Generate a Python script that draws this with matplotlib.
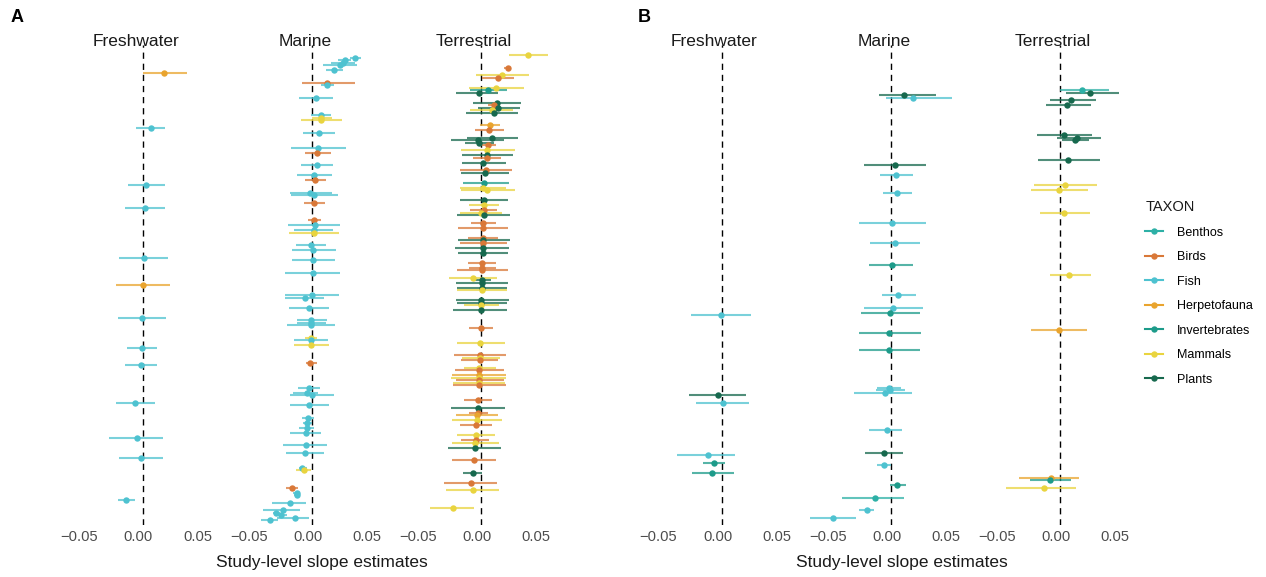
import matplotlib
matplotlib.use('Agg')
import matplotlib.pyplot as plt
from matplotlib.lines import Line2D
from matplotlib.transforms import ScaledTranslation

plt.rcParams['font.family'] = ['Liberation Sans', 'DejaVu Sans']

# ---------------- categories ----------------
REALMS = ['Freshwater', 'Marine', 'Terrestrial']
TAXA = ['Benthos', 'Birds', 'Fish', 'Herpetofauna', 'Invertebrates', 'Mammals', 'Plants']
CODE = {'Be': 'Benthos', 'Bi': 'Birds', 'Fi': 'Fish', 'He': 'Herpetofauna',
        'In': 'Invertebrates', 'Ma': 'Mammals', 'Pl': 'Plants'}
COLORS = {'Benthos': '#2DB0A6', 'Birds': '#D97838', 'Fish': '#4EC2D0',
          'Herpetofauna': '#E9A42E', 'Invertebrates': '#1D9B8A', 'Mammals': '#E9D43F',
          'Plants': '#17694E'}
X_TICKS = [-0.05, 0.0, 0.05]
X_TICKLABELS = ['\u22120.05', '0.00', '0.05']

# ---------------- Panel A : Freshwater ----------------
A_FW_taxon = ['He', 'Fi', 'Fi', 'Fi', 'Fi', 'He', 'Fi', 'Fi', 'Fi', 'Fi', 'Fi', 'Fi', 'Fi']
A_FW_est = [0.018, 0.0065, 0.0025, 0.0017, 0.0008, 0.0003, -0.0008, -0.0011, -0.002, -0.0065, -0.0051, -0.0014, -0.014]
A_FW_lo = [0.000, -0.0057, -0.013, -0.015, -0.0206, -0.0226, -0.021, -0.0133, -0.015, -0.0226, -0.0286, -0.020, -0.0214]
A_FW_hi = [0.037, 0.019, 0.0186, 0.0186, 0.0215, 0.0231, 0.0195, 0.0121, 0.0119, 0.0099, 0.0167, 0.017, -0.0065]
A_FW_rank = [9, 31, 54, 63, 83, 94, 107, 119, 126, 141, 155, 163, 180]

# ---------------- Panel A : Marine ----------------
A_MA_taxon = ['Fi', 'Fi', 'Fi', 'Fi', 'Fi', 'Bi', 'Fi', 'Fi', 'Fi', 'Ma',
              'Ma', 'Fi', 'Fi', 'Bi', 'Fi', 'Fi', 'Bi', 'Fi', 'Fi', 'Bi',
              'Bi', 'Fi', 'Fi', 'Ma', 'Fi', 'Fi', 'Fi', 'Fi', 'Fi', 'Fi',
              'Fi', 'Fi', 'Fi', 'Fi', 'Ma', 'Fi', 'Ma', 'Bi', 'Fi', 'Fi',
              'Fi', 'Fi', 'Fi', 'Fi', 'Fi', 'Fi', 'Fi', 'Fi', 'Fi', 'Ma',
              'Bi', 'Fi', 'Fi', 'Fi', 'Fi', 'Fi', 'Fi', 'Fi', 'Fi']
A_MA_est = [0.0365, 0.0275, 0.026, 0.0235, 0.0184, 0.0127, 0.0127, 0.0029, 0.0074, 0.0074,
            0.0074, 0.0057, 0.0048, 0.0042, 0.0037, 0.0012, 0.0025, -0.0017, 0.0017, 0.0014,
            0.0014, 0.002, 0.0014, 0.0012, -0.0014, 0.0006, 0.0006, 0.0003, 0.0, -0.0062,
            -0.0028, -0.0008, -0.0008, -0.0008, -0.0011, -0.0011, -0.0011, -0.0017, -0.003, -0.0042,
            0.0, -0.0028, -0.0034, -0.0042, -0.0047, -0.0053, -0.0056, -0.0059, -0.0087, -0.0073,
            -0.0175, -0.0132, -0.0132, -0.0192, -0.0251, -0.0305, -0.0268, -0.0144, -0.0361]
A_MA_lo = [0.032, 0.022, 0.016, 0.009, 0.0113, -0.0085, 0.0076, -0.0113, -0.0011, -0.0005,
           -0.0096, -0.0076, -0.018, -0.0062, -0.0096, -0.0132, -0.006, -0.019, -0.0178, -0.0073,
           -0.0039, -0.0203, -0.0153, -0.020, -0.0138, -0.0175, -0.0172, -0.0229, -0.0229, -0.0229,
           -0.0197, -0.0132, -0.0132, -0.0212, -0.006, -0.0155, -0.0153, -0.0056, -0.0124, -0.0166,
           -0.0186, -0.0186, -0.0087, -0.0081, -0.0113, -0.0189, -0.0246, -0.022, -0.0115, -0.014,
           -0.0223, -0.0161, -0.0158, -0.0342, -0.0415, -0.0335, -0.0315, -0.0302, -0.0435]
A_MA_hi = [0.041, 0.033, 0.036, 0.038, 0.0257, 0.0365, 0.018, 0.0175, 0.0158, 0.0164,
           0.0252, 0.0195, 0.0286, 0.0156, 0.0178, 0.0169, 0.0119, 0.0164, 0.022, 0.0108,
           0.0071, 0.0237, 0.0173, 0.0224, 0.0119, 0.0198, 0.019, 0.0235, 0.0229, 0.0102,
           0.0139, 0.0127, 0.0116, 0.0195, 0.0042, 0.013, 0.0141, 0.0037, 0.0065, 0.0046,
           0.0186, 0.0139, 0.0017, -0.0005, 0.0014, 0.0071, 0.0127, 0.0099, -0.0042, -0.0008,
           -0.0124, -0.0104, -0.0106, -0.0051, -0.0107, -0.0275, -0.0215, -0.0025, -0.0293]
A_MA_rank = [3, 4, 5, 6, 8, 13, 14, 19, 26, 27,
             28, 33, 39, 41, 46, 50, 52, 57, 58, 61,
             68, 70, 72, 73, 78, 80, 84, 89, 98, 99,
             103, 108, 109, 110, 115, 116, 118, 125, 135, 137,
             138, 142, 147, 149, 151, 153, 158, 161, 167, 168,
             175, 177, 178, 181, 184, 185, 186, 187, 188]

# ---------------- Panel A : Terrestrial ----------------
A_TE_taxon = ['Ma', 'Bi', 'Ma', 'Bi', 'Ma', 'In', 'Pl', 'Pl', 'Bi', 'Pl',
              'Ma', 'Pl', 'He', 'Bi', 'Pl', 'Pl', 'Pl', 'Bi', 'Ma', 'Pl',
              'Bi', 'Pl', 'Bi', 'Pl', 'In', 'Ma', 'Ma', 'Pl', 'Ma', 'Bi',
              'Ma', 'Pl', 'Bi', 'Bi', 'Bi', 'Pl', 'Bi', 'Pl', 'Pl', 'Bi',
              'Bi', 'Bi', 'Ma', 'Pl', 'Pl', 'Pl', 'Ma', 'Pl', 'Pl', 'Ma',
              'Pl', 'Bi', 'Ma', 'Bi', 'Ma', 'Bi', 'Ma', 'Bi', 'He', 'Ma',
              'Bi', 'Ma', 'Bi', 'Bi', 'Pl', 'Bi', 'He', 'Ma', 'Bi', 'Ma',
              'Bi', 'Ma', 'Pl', 'Bi', 'Pl', 'Bi', 'Ma', 'Ma']
A_TE_est = [0.0393, 0.0224, 0.0173, 0.0139, 0.0127, 0.0059, -0.002, 0.0133, 0.0105, 0.0144,
            0.0088, 0.011, 0.0074, 0.0065, 0.0091, -0.0028, -0.0017, 0.0057, 0.0051, 0.0045,
            0.0048, 0.0011, 0.0037, 0.0028, 0.0025, 0.0011, 0.0051, 0.0023, 0.002, 0.002,
            0.0, 0.002, 0.0017, 0.0014, 0.0014, 0.0011, 0.0011, 0.0011, 0.0011, 0.0008,
            0.0008, 0.0006, -0.0068, 0.0006, 0.0006, 0.0003, 0.0006, 0.0, 0.0, 0.0,
            -0.0003, -0.0006, -0.0011, -0.0011, -0.0011, -0.0014, -0.0017, -0.002, -0.0022, -0.0022,
            -0.002, -0.0022, -0.0022, -0.0025, -0.0025, -0.0031, -0.0034, -0.0034, -0.0042, -0.0048,
            -0.0048, -0.0051, -0.0053, -0.0059, -0.007, -0.0087, -0.0073, -0.0243]
A_TE_lo = [0.0237, 0.0195, -0.0045, 0.0003, -0.0104, -0.0093, -0.0217, -0.0068, 0.0059, -0.0025,
           -0.0093, -0.013, -0.0011, -0.0051, -0.0124, -0.0254, -0.0136, -0.0011, -0.0172, -0.016,
           -0.0073, -0.0166, -0.0178, -0.0169, -0.0153, -0.0178, -0.0172, -0.018, -0.0104, -0.0093,
           -0.0178, -0.0206, -0.009, -0.0195, -0.011, -0.0195, -0.0183, -0.022, -0.0195, -0.011,
           -0.0104, -0.0206, -0.0271, -0.007, -0.0217, -0.0203, -0.0206, -0.0217, -0.0209, -0.0147,
           -0.0237, -0.0104, -0.0209, -0.0229, -0.0166, -0.0169, -0.0144, -0.0223, -0.0251, -0.0257,
           -0.0217, -0.0237, -0.0237, -0.0144, -0.0257, -0.0107, -0.0217, -0.0251, -0.0178, -0.0209,
           -0.0169, -0.0251, -0.0282, -0.0246, -0.0153, -0.0314, -0.0302, -0.0435]
A_TE_hi = [0.0563, 0.025, 0.0402, 0.028, 0.0359, 0.0215, 0.0144, 0.0336, 0.0158, 0.0328,
           0.0271, 0.0308, 0.0161, 0.019, 0.0311, 0.019, 0.0107, 0.0124, 0.0285, 0.0266,
           0.0167, 0.0209, 0.026, 0.0237, 0.0232, 0.0209, 0.0283, 0.0226, 0.0147, 0.0133,
           0.0178, 0.0243, 0.0122, 0.0224, 0.0144, 0.0243, 0.022, 0.0235, 0.0229, 0.0127,
           0.0127, 0.0226, 0.013, 0.008, 0.0223, 0.0215, 0.0215, 0.0235, 0.0215, 0.015,
           0.0215, 0.0102, 0.0198, 0.0209, 0.0158, 0.0141, 0.0124, 0.019, 0.0209, 0.0206,
           0.019, 0.0197, 0.0209, 0.0093, 0.0198, 0.0059, 0.0141, 0.0175, 0.0091, 0.0113,
           0.0068, 0.0147, 0.0167, 0.0122, 0.0003, 0.013, 0.015, -0.0059]
A_TE_rank = [2, 7, 10, 11, 15, 16, 17, 21, 22, 23,
             24, 25, 30, 32, 35, 36, 37, 38, 40, 42,
             43, 45, 48, 49, 53, 55, 56, 60, 62, 64,
             65, 66, 69, 71, 75, 76, 77, 79, 81, 85,
             87, 88, 91, 92, 93, 95, 96, 100, 101, 102,
             104, 111, 117, 122, 123, 124, 127, 128, 130, 131,
             132, 133, 134, 140, 143, 145, 146, 148, 150, 154,
             156, 157, 159, 164, 169, 173, 176, 183]

# ---------------- Panel B : Freshwater ----------------
B_FW_taxon = ['Fi', 'Pl', 'Fi', 'Fi', 'In', 'In']
B_FW_est = [-0.0008, -0.0034, 0.0008, -0.0116, -0.007, -0.0082]
B_FW_lo = [-0.0265, -0.0277, -0.022, -0.0381, -0.0161, -0.0252]
B_FW_hi = [0.0243, 0.0201, 0.0229, 0.0113, 0.0025, 0.0099]
B_FW_rank = [106, 138, 141, 162, 165, 169]

# ---------------- Panel B : Marine ----------------
B_MA_taxon = ['Pl', 'Fi', 'Pl', 'Fi', 'Fi', 'Fi', 'Fi', 'In', 'Fi', 'Fi',
              'In', 'In', 'In', 'Fi', 'Fi', 'Fi', 'Fi', 'Pl', 'Fi', 'In',
              'Be', 'Fi', 'Fi']
B_MA_est = [0.011, 0.0186, 0.0031, 0.0037, 0.0048, 0.0003, 0.0028, 0.0003, 0.0054, 0.0017,
            -0.0008, -0.0017, -0.0017, -0.002, -0.0014, -0.0054, -0.0039, -0.0065, -0.0059, 0.0051,
            -0.0141, -0.0208, -0.0497]
B_MA_lo = [-0.0107, -0.0042, -0.0229, -0.0096, -0.0068, -0.0276, -0.018, -0.0189, -0.0082, -0.0231,
           -0.0257, -0.0276, -0.0276, -0.0124, -0.0133, -0.0314, -0.0192, -0.022, -0.0121, -0.0014,
           -0.0418, -0.0276, -0.0689]
B_MA_hi = [0.0381, 0.0514, 0.0297, 0.0184, 0.0173, 0.0291, 0.024, 0.0184, 0.0212, 0.0269,
           0.024, 0.0252, 0.024, 0.0082, 0.0119, 0.0173, 0.0091, 0.0096, -0.0003, 0.0122,
           0.0105, -0.0147, -0.0297]
B_MA_rank = [18, 19, 46, 50, 57, 69, 77, 86, 98, 103,
             105, 113, 120, 135, 136, 137, 152, 161, 166, 174,
             179, 184, 187]

# ---------------- Panel B : Terrestrial ----------------
B_TE_taxon = ['Be', 'Pl', 'Pl', 'Pl', 'Pl', 'Pl', 'Pl', 'Pl', 'Ma', 'Ma',
              'Ma', 'Ma', 'He', 'He', 'In', 'Ma']
B_TE_est = [0.0186, 0.0254, 0.0091, 0.0054, 0.0028, 0.0144, 0.0127, 0.0062, 0.0037, -0.0008,
            0.0034, 0.0076, -0.0008, -0.0081, -0.0085, -0.0136]
B_TE_lo = [0.0, 0.0048, -0.0087, -0.0121, -0.020, -0.0025, 0.0014, -0.0186, -0.022, -0.0246,
           -0.0175, -0.0085, -0.0246, -0.0347, -0.0257, -0.046]
B_TE_hi = [0.041, 0.0495, 0.030, 0.026, 0.0271, 0.0347, 0.0243, 0.0339, 0.0308, 0.0234,
           0.0249, 0.0263, 0.0224, 0.0158, 0.0091, 0.0133]
B_TE_rank = [16, 17, 20, 22, 34, 35, 36, 44, 54, 56,
             65, 90, 112, 171, 172, 175]

PANELS = {
    'A': [(A_FW_taxon, A_FW_est, A_FW_lo, A_FW_hi, A_FW_rank),
          (A_MA_taxon, A_MA_est, A_MA_lo, A_MA_hi, A_MA_rank),
          (A_TE_taxon, A_TE_est, A_TE_lo, A_TE_hi, A_TE_rank)],
    'B': [(B_FW_taxon, B_FW_est, B_FW_lo, B_FW_hi, B_FW_rank),
          (B_MA_taxon, B_MA_est, B_MA_lo, B_MA_hi, B_MA_rank),
          (B_TE_taxon, B_TE_est, B_TE_lo, B_TE_hi, B_TE_rank)],
}

# ---------------- layout ----------------
W, H = 1266, 577
fig = plt.figure(figsize=(W / 100, H / 100), dpi=100)
fig.patch.set_facecolor('white')

FACET_W = 169.0
CENTERS = {'A': [143.0, 312.3, 481.3], 'B': [722.0, 891.3, 1060.3]}
AX_TOP, AX_BOT = 45.0, 525.0
XLIM = (-0.0715, 0.0715)
YLIM = (190, -2)
label_shift = ScaledTranslation(-4.5 / 100, 0, fig.dpi_scale_trans)

for panel, groups in PANELS.items():
    for i, (tax, est, lo, hi, rank) in enumerate(groups):
        c = CENTERS[panel][i]
        ax = fig.add_axes([(c - FACET_W / 2) / W, 1 - AX_BOT / H,
                           FACET_W / W, (AX_BOT - AX_TOP) / H])
        ax.set_facecolor('none')
        for s in ax.spines.values():
            s.set_visible(False)
        ax.axvline(0, color='black', lw=1.0, ls=(0, (4.5, 3.5)), zorder=1)
        for t, e, l, h, r in zip(tax, est, lo, hi, rank):
            col = COLORS[CODE[t]]
            ax.hlines(r, l, h, color=col, lw=1.5, alpha=0.75, zorder=2)
            ax.plot(e, r, 'o', color=col, ms=4.6, mec='none', zorder=3)
        ax.set_xlim(*XLIM)
        ax.set_ylim(*YLIM)
        ax.set_yticks([])
        ax.set_xticks(X_TICKS)
        ax.set_xticklabels(X_TICKLABELS)
        ax.tick_params(axis='x', length=0, pad=3.5, labelsize=10.6, labelcolor='#4D4D4D')
        for lab in ax.get_xticklabels():
            lab.set_transform(lab.get_transform() + label_shift)
        fig.text((c - 7.5) / W, 1 - 41 / H, REALMS[i], ha='center', va='center',
                 fontsize=12.5, color='#1A1A1A')

# panel tags and axis titles
fig.text(17 / W, 1 - 18 / H, 'A', ha='center', va='center', fontsize=13, fontweight='bold')
fig.text(644 / W, 1 - 18 / H, 'B', ha='center', va='center', fontsize=13, fontweight='bold')
fig.text(322 / W, 1 - 562 / H, 'Study-level slope estimates', ha='center', va='center',
         fontsize=12.5, color='#1A1A1A')
fig.text(902 / W, 1 - 562 / H, 'Study-level slope estimates', ha='center', va='center',
         fontsize=12.5, color='#1A1A1A')

# legend
handles = [Line2D([0], [0], color=COLORS[t], lw=1.5, marker='o', ms=4.6, mec='none')
           for t in TAXA]
leg = fig.legend(handles, TAXA, title='TAXON', loc='upper left',
                 bbox_to_anchor=(1134 / W, 1 - 189 / H), frameon=False,
                 fontsize=9, title_fontsize=10.5, handlelength=1.45,
                 handletextpad=1.05, labelspacing=1.0, alignment='left')
leg.get_title().set_color('#1A1A1A')

fig.savefig('out.png', dpi=100, facecolor='white')
